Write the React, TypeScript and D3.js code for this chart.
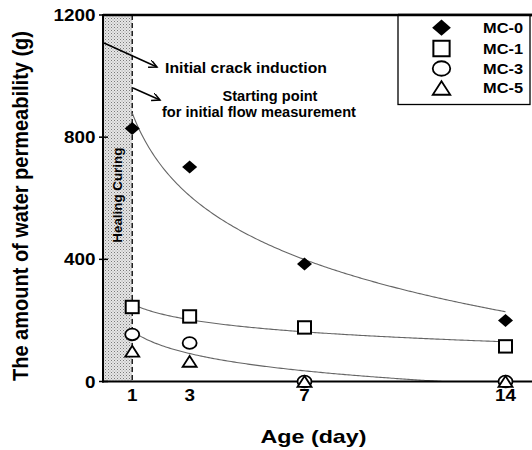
import React from "react";
import * as d3 from "d3";

// Age of specimens (days)
const ages = [1, 3, 7, 14];

// Amount of water permeability (g) per mix
const mc0 = [828, 702, 385, 200];
const mc1 = [244, 213, 177, 115];
const mc3 = [154, 126, 0, 0];
const mc5 = [99, 66, 0, 0];

const seriesNames = ["MC-0", "MC-1", "MC-3", "MC-5"];
const xTicks = [1, 3, 7, 14];
const yTicks = [0, 400, 800, 1200];

const W = 532;
const H = 450;
const FONT = "'Liberation Sans', Arial, sans-serif";

const x = d3.scaleLinear().domain([0, 14]).range([103.5, 505.5]);
const y = d3.scaleLinear().domain([0, 1200]).range([381.5, 15]);

// Least-squares fit of v = a + b * ln(t)
function logFit(ts: number[], vs: number[]) {
  const lx = ts.map((t) => Math.log(t));
  const mx = d3.mean(lx) as number;
  const my = d3.mean(vs) as number;
  let sxy = 0;
  let sxx = 0;
  lx.forEach((l, i) => {
    sxy += (l - mx) * (vs[i] - my);
    sxx += (l - mx) * (l - mx);
  });
  const b = sxy / sxx;
  const a = my - b * mx;
  return (t: number) => Math.max(0, a + b * Math.log(t));
}

const fitSeries = [mc0, mc1, mc3];
const samples = d3.range(0, 201).map((i) => 1 + (13 * i) / 200);
const line = d3
  .line<[number, number]>()
  .x((d) => x(d[0]))
  .y((d) => y(d[1]));

type Kind = "diamond" | "square" | "circle" | "triangle";
const kinds: Kind[] = ["diamond", "square", "circle", "triangle"];

function Marker({ kind, cx, cy, s }: { kind: Kind; cx: number; cy: number; s: number }) {
  if (kind === "diamond") {
    const w = 7.5 * s;
    const h = 6.5 * s;
    return (
      <path
        d={`M${cx},${cy - h}L${cx + w},${cy}L${cx},${cy + h}L${cx - w},${cy}Z`}
        fill="#000"
      />
    );
  }
  if (kind === "square") {
    const w = 6.5 * s;
    const h = 6.2 * s;
    return (
      <rect x={cx - w} y={cy - h} width={2 * w} height={2 * h} fill="#fff" stroke="#000" strokeWidth={2} />
    );
  }
  if (kind === "circle") {
    return <ellipse cx={cx} cy={cy} rx={7 * s} ry={5.8 * s} fill="#fff" stroke="#000" strokeWidth={1.8} />;
  }
  const w = 7 * s;
  const h = 5.4 * s;
  return (
    <path
      d={`M${cx},${cy - h}L${cx + w},${cy + h}L${cx - w},${cy + h}Z`}
      fill="#fff"
      stroke="#000"
      strokeWidth={1.8}
      strokeLinejoin="miter"
    />
  );
}

export default function App() {
  const allSeries = [mc0, mc1, mc3, mc5];
  const legendRows = [27.7, 48.5, 68.5, 88];
  return (
    <svg
      width={W}
      height={H}
      style={{ position: "absolute", left: 0, top: 0, background: "#fff" }}
      fontFamily={FONT}
    >
      <defs>
        <pattern id="stipple" width="3" height="3" patternUnits="userSpaceOnUse">
          <rect width="3" height="3" fill="#e6e6e6" />
          <rect x="0" y="0" width="1" height="1" fill="#7a7a7a" />
          <rect x="1.5" y="1.5" width="1" height="1" fill="#a0a0a0" />
        </pattern>
        <marker id="arrow" markerWidth="10" markerHeight="10" refX="8" refY="4" orient="auto" markerUnits="userSpaceOnUse">
          <path d="M0,0 L8,4 L0,8" fill="none" stroke="#000" strokeWidth="1.5" />
        </marker>
      </defs>

      {/* healing curing period */}
      <rect x={x(0)} y={y(1200)} width={x(1) - x(0)} height={y(0) - y(1200)} fill="url(#stipple)" />
      <line x1={x(1)} x2={x(1)} y1={y(1200)} y2={y(0)} stroke="#000" strokeWidth={1.3} strokeDasharray="5,3" />
      <text
        transform={`translate(${x(0.5) + 4.5},${y(610)}) rotate(-90)`}
        textAnchor="middle"
        fontSize={13}
        fontWeight="bold"
        textLength={95}
        lengthAdjust="spacingAndGlyphs"
      >
        Healing Curing
      </text>

      {/* fitted trend curves */}
      {fitSeries.map((vals, i) => {
        const f = logFit(ages, vals);
        const pts = samples.map((t) => [t, f(t)] as [number, number]);
        return <path key={i} d={line(pts) as string} fill="none" stroke="#666" strokeWidth={1.1} />;
      })}

      {/* frame */}
      <line x1={103} x2={W + 10} y1={15} y2={15} stroke="#000" strokeWidth={2.5} />
      <line x1={103} x2={103} y1={14} y2={382.5} stroke="#000" strokeWidth={2} />
      <line x1={102} x2={W + 10} y1={381.5} y2={381.5} stroke="#000" strokeWidth={2} />

      {/* y ticks */}
      {yTicks.map((t) => (
        <g key={t}>
          <line x1={99} x2={108} y1={y(t)} y2={y(t)} stroke="#000" strokeWidth={1.5} />
          <text
            x={95.5}
            y={y(t) + 6}
            textAnchor="end"
            fontSize={17}
            fontWeight="bold"
            textLength={String(t).length * 10.5}
            lengthAdjust="spacingAndGlyphs"
          >
            {t}
          </text>
        </g>
      ))}

      {/* x tick labels */}
      {xTicks.map((t) => (
        <text
          key={t}
          x={x(t)}
          y={401}
          textAnchor="middle"
          fontSize={17}
          fontWeight="bold"
          textLength={String(t).length * 10.5}
          lengthAdjust="spacingAndGlyphs"
        >
          {t}
        </text>
      ))}

      {/* data points */}
      {allSeries.map((vals, si) =>
        vals.map((v, i) => <Marker key={`${si}-${i}`} kind={kinds[si]} cx={x(ages[i])} cy={y(v)} s={1} />)
      )}

      {/* annotations */}
      <line x1={104} y1={43} x2={157} y2={67} stroke="#000" strokeWidth={1.5} markerEnd="url(#arrow)" />
      <line x1={133} y1={88} x2={160} y2={100} stroke="#000" strokeWidth={1.5} markerEnd="url(#arrow)" />
      <text x={165} y={73} fontSize={14} fontWeight="bold" textLength={162} lengthAdjust="spacingAndGlyphs">
        Initial crack induction
      </text>
      <text x={270} y={101} textAnchor="middle" fontSize={14} fontWeight="bold" textLength={95} lengthAdjust="spacingAndGlyphs">
        Starting point
      </text>
      <text x={162} y={117} fontSize={14} fontWeight="bold" textLength={194} lengthAdjust="spacingAndGlyphs">
        for initial flow measurement
      </text>

      {/* legend */}
      <rect x={398} y={15} width={132} height={89.5} fill="#fff" stroke="#000" strokeWidth={1.3} />
      <line x1={398} x2={W + 10} y1={15} y2={15} stroke="#000" strokeWidth={2.5} />
      {seriesNames.map((name, i) => (
        <g key={name}>
          <Marker kind={kinds[i]} cx={441.5} cy={legendRows[i]} s={1.25} />
          <text
            x={483}
            y={legendRows[i] + 5}
            fontSize={14}
            fontWeight="bold"
            textLength={40}
            lengthAdjust="spacingAndGlyphs"
          >
            {name}
          </text>
        </g>
      ))}

      {/* axis titles */}
      <text
        x={(x(0) + x(14)) / 2 + 9}
        y={443}
        textAnchor="middle"
        fontSize={19}
        fontWeight="bold"
        textLength={106}
        lengthAdjust="spacingAndGlyphs"
      >
        Age (day)
      </text>
      <text
        transform={`translate(28,206) scale(1.15,1) rotate(-90)`}
        textAnchor="middle"
        fontSize={19.5}
        fontWeight="bold"
        textLength={350}
        lengthAdjust="spacingAndGlyphs"
      >
        The amount of water permeability  (g)
      </text>
    </svg>
  );
}
